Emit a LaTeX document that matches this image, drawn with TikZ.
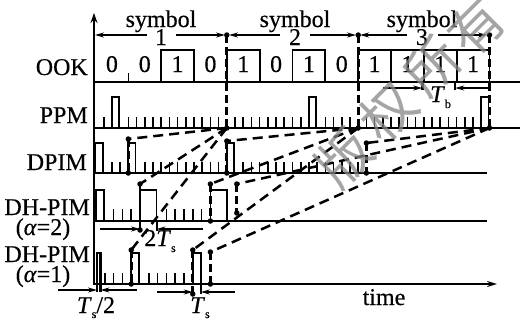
\documentclass[tikz,border=0pt]{standalone}
\usepackage{fontspec}
\setmainfont{Liberation Serif}[FakeBold=0.4]
\newfontfamily\cjkfont{Noto Sans CJK SC}
\usetikzlibrary{arrows.meta}
\definecolor{wmgray}{RGB}{135,135,135}
\begin{document}
\begin{tikzpicture}[x=1pt,y=-1pt,
  line cap=butt,
  lbl/.style={font=\fontsize{24}{26}\selectfont, inner sep=0pt},
  bitlbl/.style={font=\fontsize{24}{26}\selectfont, inner sep=0pt},
  axisline/.style={line width=1.9pt},
  tickline/.style={line width=1.6pt},
  pulse/.style={line width=1.7pt},
  bound/.style={line width=2.9pt, dash pattern=on 8pt off 4pt},
  link/.style={line width=2.5pt, dash pattern=on 10pt off 6pt},
  dimarrow/.style={line width=1.3pt, -{Stealth[length=9pt,width=5pt]}},
  blob/.style={circle, fill, inner sep=0pt, minimum size=5.5pt},
  wm/.style={font=\cjkfont\fontsize{54}{54}\selectfont, text=wmgray, opacity=0.75, rotate=45, inner sep=0pt},
]
\useasboundingbox (0,0) rectangle (523,322);

% ---------- axes and base lines ----------
\draw[axisline,-{Stealth[length=10pt,width=7pt]}] (94,285) -- (94,13);
\draw[axisline] (94,82) -- (520,82);
\draw[axisline] (94,128) -- (520,128);
\draw[axisline] (94,173) -- (487,173);
\draw[axisline] (94,221) -- (487,221);
\draw[axisline,-{Stealth[length=10pt,width=6pt]}] (94,284) -- (497,284);
\node[lbl, anchor=base] (timelbl) at (384,305) {time};

% ---------- row labels ----------
\node[lbl, anchor=base east] (lOOK)  at (88,75)  {OOK};
\node[lbl, anchor=base east] (lPPM)  at (88,123) {PPM};
\node[lbl, anchor=base east] (lDPIM) at (87,170) {DPIM};
\node[lbl, anchor=base east] (lDHa)  at (90,215) {DH-PIM};
\node[lbl, anchor=base]      (lAa)   at (43,235) {(\textit{α}=2)};
\node[lbl, anchor=base east] (lDHb)  at (90,262) {DH-PIM};
\node[lbl, anchor=base]      (lAb)   at (43,282) {(\textit{α}=1)};

% ---------- symbol labels ----------
\foreach \c/\n in {161/1,295/2,422/3}{
  \node[lbl, anchor=base] (sym\n) at (\c,27) {symbol};
  \node[lbl, anchor=base] (num\n) at (\c,45) {\n};
}
\draw[dimarrow] (147,35) -- (95,35);
\draw[dimarrow] (176,35) -- (225,35);
\draw[dimarrow] (280,35) -- (229,35);
\draw[dimarrow] (310,35) -- (356,35);
\draw[dimarrow] (407,35) -- (360,35);
\draw[dimarrow] (438,35) -- (487,35);

% ---------- OOK ----------
\foreach \v [count=\i from 0] in {0,0,1,0,1,0,1,0,1,1,1,1}{
  \pgfmathsetmacro\xl{95.5+\i*32.833}
  \pgfmathsetmacro\xr{\xl+32.833}
  \pgfmathsetmacro\xc{\xl+16.42}
  \ifnum\v=1 \draw[pulse] (\xl,82) -- (\xl,50) -- (\xr,50) -- (\xr,82); \fi
  \node[bitlbl, anchor=base] (bit\i) at (\xc,72) {\v};
}
\draw[tickline] (128.3,82) -- (128.3,73);

% T_b
\draw[line width=2.4pt] (422.3,82) -- (422.3,90);
\draw[line width=2.4pt] (455.2,82) -- (455.2,90);
\draw[dimarrow] (383,88) -- (422.3,88);
\draw[dimarrow] (490,88) -- (455.2,88);
\node[lbl, anchor=base west] (Tb) at (430,102) {\textit{T}\raisebox{-6pt}{\fontsize{12}{12}\selectfont b}};

% ---------- PPM (16 slots per symbol) ----------
\foreach \k in {1,...,47}{
  \pgfmathtruncatemacro\skipit{(\k==2)||(\k==3)||(\k==16)||(\k==26)||(\k==27)||(\k==32)||(\k==47)}
  \ifnum\skipit=0
    \pgfmathsetmacro\xx{95.5+\k*8.2083}
    \draw[tickline] (\xx,128) -- (\xx,117);
  \fi
}
\foreach \k in {2,26,47}{
  \pgfmathsetmacro\xs{95.5+\k*8.2083}
  \pgfmathsetmacro\xe{\xs+7.2}
  \draw[pulse] (\xs,128) -- (\xs,97) -- (\xe,97) -- (\xe,128);
}

% ---------- DPIM ----------
\foreach \k in {2,3,6,7,...,15,18,19,...,32}{
  \pgfmathsetmacro\xx{95.5+\k*8.2083}
  \draw[tickline] (\xx,173) -- (\xx,162);
}
\foreach \k in {0,4,16}{
  \pgfmathsetmacro\xs{95.5+\k*8.2083}
  \pgfmathsetmacro\xe{\xs+7.2}
  \draw[pulse] (\xs,173) -- (\xs,143) -- (\xe,143) -- (\xe,173);
}

% ---------- DH-PIM, alpha = 2 ----------
\foreach \k in {2,3,4,8,9,10,11,12}{
  \pgfmathsetmacro\xx{96+\k*8.8}
  \draw[tickline] (\xx,221) -- (\xx,209);
}
\draw[pulse] (96,221) -- (96,190) -- (104,190) -- (104,221);
\draw[pulse] (140,221) -- (140,190) -- (156.6,190) -- (156.6,221);
\draw[pulse] (210.4,221) -- (210.4,190) -- (227,190) -- (227,221);

% ---------- DH-PIM, alpha = 1 ----------
\foreach \k in {1,2,3,6,7,8,9,10}{
  \pgfmathsetmacro\xx{96+\k*8.8}
  \draw[tickline] (\xx,284) -- (\xx,273);
}
\draw[pulse, line width=2.8pt] (97,284) -- (97,253) -- (100.4,253) -- (100.4,284);
\draw[pulse] (131.2,284) -- (131.2,253) -- (139.2,253) -- (139.2,284);
\draw[pulse] (192.8,284) -- (192.8,253) -- (200.8,253) -- (200.8,284);

% ---------- symbol boundaries ----------
\coordinate (P0) at (226.8,35);  \coordinate (P1) at (226.8,128);
\coordinate (Q0) at (358.2,35);  \coordinate (P2) at (358.2,128);
\coordinate (R0) at (489.5,35);  \coordinate (P3) at (489.5,128);
\coordinate (D1) at (128.3,139); \coordinate (D1b) at (128.3,173);
\coordinate (D2) at (226.8,141); \coordinate (D2b) at (226.8,173);
\coordinate (D3) at (366.4,143); \coordinate (D3b) at (366.4,173);
\coordinate (A1) at (140,184);   \coordinate (A1b) at (140,230);
\coordinate (A2) at (210.4,184); \coordinate (A2b) at (210.4,221);
\coordinate (A3) at (236.8,184); \coordinate (A3b) at (236.8,213);
\coordinate (B1) at (131.2,250); \coordinate (B1b) at (131.2,284);
\coordinate (B2) at (192.8,250); \coordinate (B2b) at (192.8,294);
\coordinate (B3) at (210.4,252); \coordinate (B3b) at (210.4,284);

\foreach \t/\b in {P0/P1,Q0/P2,R0/P3,D1/D1b,D2/D2b,D3/D3b,A1/A1b,A2/A2b,A3/A3b,B1/B1b,B2/B2b,B3/B3b}{
  \draw[bound] (\t) -- (\b);
  \node[blob] at (\t) {};
  \node[blob] at (\b) {};
}

% links between corresponding boundaries
\foreach \p/\d/\a/\b in {P1/D1/A1/B1,P2/D2/A2/B2,P3/D3/A3/B3}{
  \draw[link] (\p) -- (\d);
  \draw[link] (\p) -- (\a);
  \draw[link] (\p) -- (\b);
}

% ---------- slot widths ----------
\draw[line width=2.2pt] (156.6,221) -- (156.6,231);
\draw[dimarrow] (100,229) -- (140,229);
\draw[dimarrow] (203,229) -- (156.6,229);
\node[lbl, anchor=base] (TTs) at (160,246) {2\textit{T}\raisebox{-6pt}{\fontsize{12}{12}\selectfont s}};

\draw[line width=2.2pt] (97,284) -- (97,292);
\draw[line width=2.2pt] (100.4,284) -- (100.4,292);
\draw[dimarrow] (58,290) -- (97,290);
\draw[dimarrow] (137,290) -- (100.4,290);
\node[lbl, anchor=base] (Tsh) at (96,313) {\textit{T}\raisebox{-5pt}{\fontsize{12}{12}\selectfont s}/2};

\draw[line width=2.2pt] (200.8,284) -- (200.8,294);
\draw[dimarrow] (157,292) -- (192.8,292);
\draw[dimarrow] (235,292) -- (200.8,292);
\node[lbl, anchor=base] (Ts) at (200,313) {\textit{T}\raisebox{-5pt}{\fontsize{12}{12}\selectfont s}};

% ---------- watermark ----------
\node[wm] (w1) at (344,158) {版};
\node[wm] (w2) at (388,112) {权};
\node[wm] (w3) at (432,66)  {所};
\node[wm] (w4) at (476,27)  {有};
\end{tikzpicture}
\end{document}
